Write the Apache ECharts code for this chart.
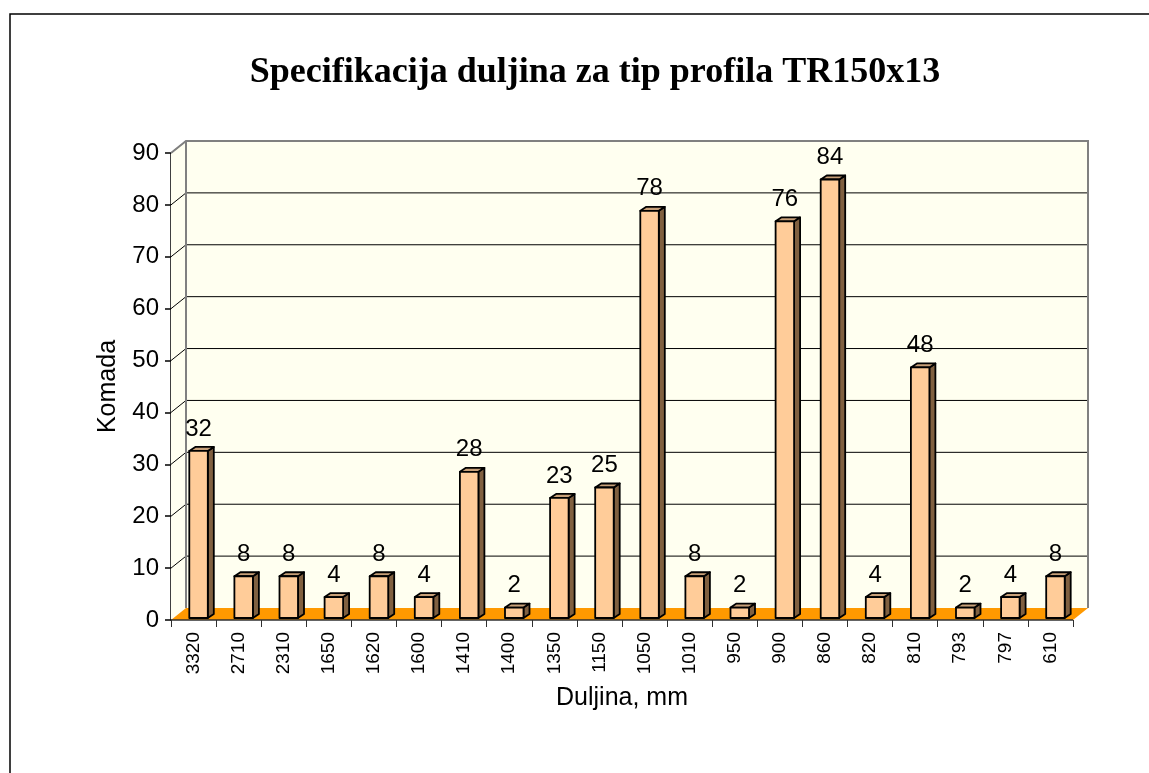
<!DOCTYPE html>
<html>
<head>
<meta charset="utf-8">
<script src="https://cdn.jsdelivr.net/npm/echarts@6/dist/echarts.min.js"></script>
<style>
  html, body { margin: 0; padding: 0; background: #ffffff; }
  #chart { width: 1149px; height: 773px; }
</style>
</head>
<body>
<div id="chart"></div>
<script>
// Lengths (mm) and piece counts
const lengths = ['3320', '2710', '2310', '1650', '1620', '1600', '1410', '1400', '1350', '1150',
                 '1050', '1010', '950', '900', '860', '820', '810', '793', '797', '610'];
const pieces = [32, 8, 8, 4, 8, 4, 28, 2, 23, 25, 78, 8, 2, 76, 84, 4, 48, 2, 4, 8];
const yTicks = [0, 10, 20, 30, 40, 50, 60, 70, 80, 90];

// Pseudo-3D look: depth of the walls and of each column
const WALL_DX = 15, WALL_DY = -12;
const BAR_DX = 6, BAR_DY = -4;
const BAR_W = 18.5, BAR_SHIFT = 5, BAR_LIFT = 2;
const SANS = '"Liberation Sans", Arial, sans-serif';

const chart = echarts.init(document.getElementById('chart'), null, { renderer: 'canvas' });

function renderWalls(params, api) {
  const cs = params.coordSys;
  const x0 = cs.x, x1 = cs.x + cs.width;
  const yT = cs.y, yB = cs.y + cs.height;
  const wall = '#FFFFF0';
  const children = [];
  // back wall
  children.push({ type: 'rect', shape: { x: x0 + WALL_DX, y: yT + WALL_DY, width: cs.width, height: cs.height },
    style: { fill: wall } });
  // left wall
  children.push({ type: 'polygon', shape: { points: [[x0, yB], [x0, yT], [x0 + WALL_DX, yT + WALL_DY], [x0 + WALL_DX, yB + WALL_DY]] },
    style: { fill: wall } });
  // gridlines across left wall and back wall
  yTicks.forEach(function (t) {
    if (t === 0) return;
    const y = api.coord([0, t])[1];
    children.push({ type: 'polyline', shape: { points: [[x0, y], [x0 + WALL_DX, y + WALL_DY], [x1 + WALL_DX, y + WALL_DY]] },
      style: { stroke: '#000000', lineWidth: 1, fill: null } });
  });
  // floor
  children.push({ type: 'polygon', shape: { points: [[x0, yB], [x0 + WALL_DX, yB + WALL_DY], [x1 + WALL_DX, yB + WALL_DY], [x1, yB]] },
    style: { fill: '#FF9900' } });
  // wall edges
  children.push({ type: 'polyline', shape: { points: [[x0, yT], [x0 + WALL_DX, yT + WALL_DY], [x1 + WALL_DX, yT + WALL_DY], [x1 + WALL_DX, yB + WALL_DY]] },
    style: { stroke: '#808080', lineWidth: 2, fill: null } });
  children.push({ type: 'line', shape: { x1: x0 + WALL_DX, y1: yT + WALL_DY, x2: x0 + WALL_DX, y2: yB + WALL_DY },
    style: { stroke: '#808080', lineWidth: 2 } });
  children.push({ type: 'line', shape: { x1: x0, y1: yB, x2: x1, y2: yB },
    style: { stroke: '#303030', lineWidth: 1.5 } });
  return { type: 'group', children: children };
}

function renderBar(params, api) {
  const i = api.value(0), v = api.value(1);
  const top = api.coord([i, v]);
  const base = api.coord([i, 0]);
  const cx = top[0] + BAR_SHIFT;
  const xl = cx - BAR_W / 2, xr = cx + BAR_W / 2;
  const yb = base[1] - BAR_LIFT;
  const yt = yb - (base[1] - top[1]) * 1.006;
  const edge = { stroke: '#000000', lineWidth: 1.8, lineJoin: 'round' };
  return {
    type: 'group',
    children: [
      { type: 'polygon', shape: { points: [[xr, yb], [xr + BAR_DX, yb + BAR_DY], [xr + BAR_DX, yt + BAR_DY], [xr, yt]] },
        style: Object.assign({ fill: '#806040' }, edge) },
      { type: 'polygon', shape: { points: [[xl, yt], [xl + BAR_DX, yt + BAR_DY], [xr + BAR_DX, yt + BAR_DY], [xr, yt]] },
        style: Object.assign({ fill: '#C8A078' }, edge) },
      { type: 'rect', shape: { x: xl, y: yt, width: BAR_W, height: yb - yt },
        style: Object.assign({ fill: '#FFCC99' }, edge) },
      { type: 'text', x: cx, y: yt - 22,
        style: { text: String(v), fill: '#000000', font: '24px ' + SANS,
                 align: 'center', verticalAlign: 'middle' } }
    ]
  };
}

chart.setOption({
  animation: false,
  backgroundColor: '#ffffff',
  title: {
    text: 'Specifikacija duljina za tip profila TR150x13',
    left: 590, top: 50, textAlign: 'center',
    textStyle: { fontFamily: '"Liberation Serif", "Times New Roman", serif', fontWeight: 'bold', fontSize: 36, color: '#000000' }
  },
  graphic: [
    { type: 'rect', shape: { x: 10, y: 14, width: 1200, height: 800 },
      style: { fill: null, stroke: '#000000', lineWidth: 1.5 }, silent: true, z: -10 }
  ],
  grid: { left: 171, right: 76, top: 153, bottom: 153 },
  xAxis: {
    type: 'category',
    data: lengths,
    boundaryGap: true,
    name: 'Duljina, mm',
    nameLocation: 'middle',
    nameGap: 66,
    nameTextStyle: { fontFamily: SANS, fontSize: 25, color: '#000000' },
    axisLine: { show: false },
    axisTick: { show: true, alignWithLabel: false, length: 7, lineStyle: { color: '#303030', width: 1 } },
    axisLabel: { rotate: 90, margin: 12, fontFamily: SANS, fontSize: 19, color: '#000000', interval: 0 },
    splitLine: { show: false }
  },
  yAxis: {
    type: 'value',
    min: 0, max: 90, interval: 10,
    name: 'Komada',
    nameLocation: 'middle',
    nameGap: 50,
    nameTextStyle: { fontFamily: SANS, fontSize: 25, color: '#000000' },
    axisLine: { show: true, lineStyle: { color: '#000000', width: 1.5 } },
    axisTick: { show: true, length: 6, lineStyle: { color: '#000000', width: 1.5 } },
    axisLabel: { margin: 12, fontFamily: SANS, fontSize: 24, color: '#000000' },
    splitLine: { show: false }
  },
  series: [
    { type: 'custom', name: 'walls', renderItem: renderWalls, data: [[0, 0]], z: 1, silent: true, clip: false },
    { type: 'custom', name: 'Komada', renderItem: renderBar, z: 3, clip: false,
      encode: { x: 0, y: 1 },
      data: pieces.map(function (v, i) { return [i, v]; }) }
  ]
});
</script>
</body>
</html>
